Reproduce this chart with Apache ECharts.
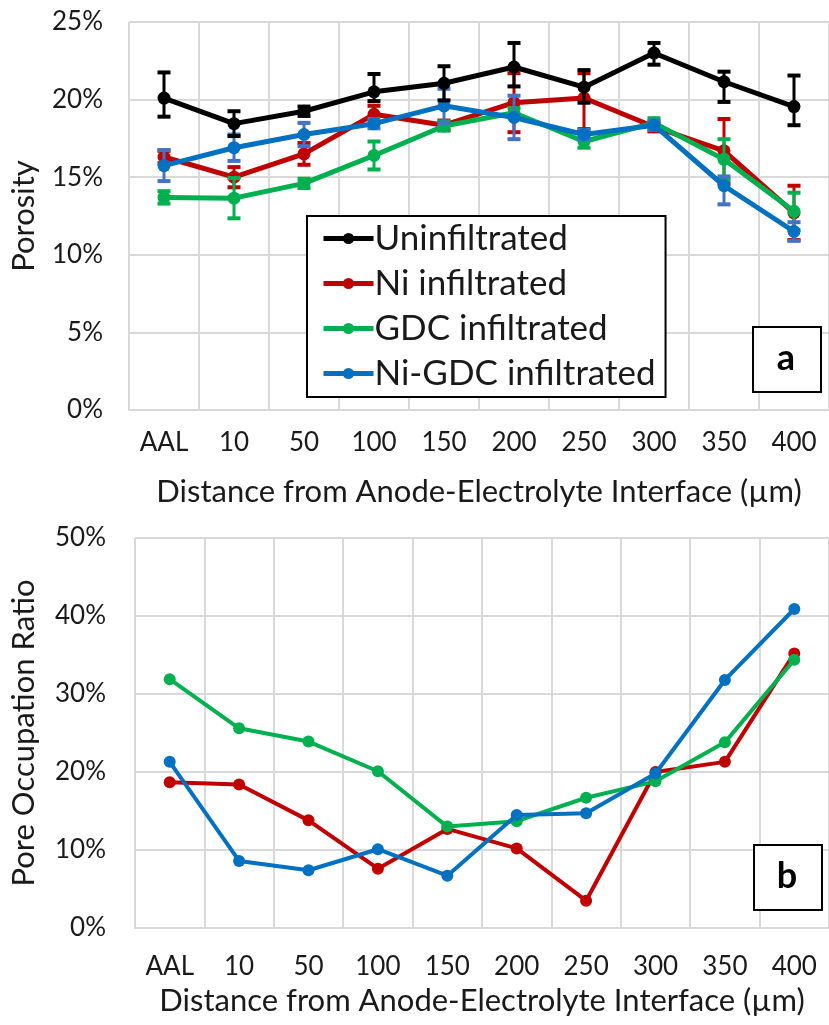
<!DOCTYPE html>
<html>
<head>
<meta charset="utf-8">
<script src="https://cdn.jsdelivr.net/npm/echarts@6/dist/echarts.min.js"></script>
<style>
html,body{margin:0;padding:0;background:#fff;}
#chart{width:829px;height:1025px;}
</style>
</head>
<body>
<div id="chart"></div>
<script>
// ---------- data ----------
const categories = ['AAL','10','50','100','150','200','250','300','350','400'];
const seriesNames = ['Uninfiltrated','Ni infiltrated','GDC infiltrated','Ni-GDC infiltrated'];

// (a) Porosity, %
const uninfPorosity   = [20.1, 18.45, 19.25, 20.5, 21.05, 22.1, 20.8, 23.0, 21.15, 19.55];
const uninfErrUp      = [1.65, 0.8, 0.3, 1.15, 1.1, 1.55, 1.1, 0.65, 0.65, 2.0];
const uninfErrDown    = [1.2, 0.8, 0.3, 0.6, 1.1, 1.25, 1.0, 0.75, 1.3, 1.2];

const niPorosity      = [16.3, 15.0, 16.5, 19.05, 18.35, 19.8, 20.1, 18.25, 16.7, 12.7];
const niErrUp         = [0.4, 0.65, 0.7, 0.55, 0.3, 1.9, 1.6, 0.3, 2.05, 1.75];
const niErrDown       = [0.4, 0.65, 0.7, 0.55, 0.3, 1.9, 2.0, 0.3, 2.1, 1.75];

const gdcPorosity     = [13.7, 13.65, 14.6, 16.4, 18.3, 19.15, 17.3, 18.5, 16.15, 12.8];
const gdcErrUp        = [0.4, 1.3, 0.3, 0.9, 0.3, 0.3, 0.4, 0.3, 1.3, 1.2];
const gdcErrDown      = [0.4, 1.3, 0.3, 0.9, 0.3, 0.3, 0.4, 0.3, 1.3, 1.2];

const niGdcPorosity   = [15.75, 16.9, 17.75, 18.45, 19.6, 18.85, 17.75, 18.35, 14.45, 11.5];
const niGdcErrUp      = [1.0, 0.85, 0.75, 0.3, 1.1, 1.4, 0.3, 0.3, 0.6, 0.6];
const niGdcErrDown    = [1.0, 0.85, 0.75, 0.3, 1.1, 1.4, 0.3, 0.3, 1.2, 0.6];

// (b) Pore occupation ratio, %
const niPOR    = [18.7, 18.4, 13.8, 7.6, 12.7, 10.2, 3.5, 20.0, 21.3, 35.2];
const gdcPOR   = [31.9, 25.6, 23.9, 20.1, 13.0, 13.7, 16.7, 18.8, 23.8, 34.4];
const niGdcPOR = [21.3, 8.6, 7.4, 10.1, 6.7, 14.5, 14.7, 19.8, 31.8, 40.9];

const porosityTicks = {min: 0, max: 25, interval: 5};
const porTicks = {min: 0, max: 50, interval: 10};

// ---------- styles ----------
const FONT = 'Lato';
const TXT = '#1a1a1a';
const GRIDC = '#d9d9d9';
const colors = {black:'#000000', red:'#c00000', green:'#00b050', blue:'#0070c0'};
const errColors = {black:'#000000', red:'#c00000', green:'#00b050', blue:'#4472c4'};

function errData(vals, up, down){
  return vals.map((v,i)=>[i, v - down[i], v + up[i]]);
}
function errSeries(name, vals, up, down, color, z){
  return {
    type:'custom', name: name + ' err', xAxisIndex:0, yAxisIndex:0, z: z,
    silent:true,
    encode:{x:0, y:[1,2]},
    data: errData(vals, up, down),
    renderItem: function(params, api){
      const x = api.value(0);
      const lo = api.coord([x, api.value(1)]);
      const hi = api.coord([x, api.value(2)]);
      const hw = 6.5;
      const st = {stroke: color, lineWidth: 3};
      const cs = {stroke: color, lineWidth: 4};
      return {type:'group', children:[
        {type:'line', shape:{x1:lo[0], y1:lo[1], x2:hi[0], y2:hi[1]}, style: st},
        {type:'line', shape:{x1:hi[0]-hw, y1:hi[1], x2:hi[0]+hw, y2:hi[1]}, style: cs},
        {type:'line', shape:{x1:lo[0]-hw, y1:lo[1], x2:lo[0]+hw, y2:lo[1]}, style: cs}
      ]};
    }
  };
}
function lineSeries(name, vals, color, ax, z, lw, sym){
  return {
    type:'line', name: name, xAxisIndex: ax, yAxisIndex: ax, z: z,
    data: vals, symbol:'circle', symbolSize: sym,
    lineStyle:{color: color, width: lw},
    itemStyle:{color: color},
    emphasis:{disabled:true},
    animation:false
  };
}

const axisLabel = {color: TXT, fontFamily: FONT, fontSize: 26};
const nameStyle = {color: TXT, fontFamily: FONT, fontSize: 31};

function xAxisCfg(gi, margin, gap){
  return {
    type:'category', gridIndex: gi, data: categories, boundaryGap: true,
    axisLine:{show:true, lineStyle:{color: GRIDC, width: 2}},
    axisTick:{show:false},
    splitLine:{show:true, interval:0, lineStyle:{color: GRIDC, width: 2}},
    axisLabel: Object.assign({margin: margin, interval:0}, axisLabel),
    name: 'Distance from Anode-Electrolyte Interface (µm)',
    nameLocation:'middle', nameGap: gap, nameTextStyle: nameStyle
  };
}
function yAxisCfg(gi, t, name, margin, gap){
  return {
    type:'value', gridIndex: gi, min: t.min, max: t.max, interval: t.interval,
    axisLine:{show:false}, axisTick:{show:false},
    splitLine:{show:true, lineStyle:{color: GRIDC, width: 2}},
    axisLabel: Object.assign({margin: margin, formatter:'{value}%'}, axisLabel),
    name: name, nameLocation:'middle', nameGap: gap, nameRotate: 90,
    nameTextStyle: nameStyle
  };
}

const option = {
  backgroundColor:'#fff',
  animation:false,
  textStyle:{fontFamily: FONT},
  grid:[
    {left:128, top:22, width:706, height:388},
    {left:132, top:538, width:701, height:390}
  ],
  xAxis:[ xAxisCfg(0, 20, 66), xAxisCfg(1, 26, 57) ],
  yAxis:[ yAxisCfg(0, porosityTicks, 'Porosity', 26, 90),
          yAxisCfg(1, porTicks, 'Pore Occupation Ratio', 29, 96) ],
  legend:{
    data: seriesNames,
    left: 307, top: 216, width: 353, height: 181,
    orient:'vertical',
    backgroundColor:'#fff', borderColor:'#000', borderWidth: 2,
    padding:[5, 10, 6, 14],
    itemWidth: 50, itemHeight: 14, itemGap: 10,
    itemStyle:{borderWidth:0},
    lineStyle:{width:5},
    textStyle:{color: TXT, fontFamily: FONT, fontSize: 35, padding:[0,0,0,-4]},
    selectedMode:false
  },
  graphic:[
    {type:'rect', left:752, top:326, shape:{width:68, height:65},
     style:{fill:'#fff', stroke:'#000', lineWidth:2}, z:100},
    {type:'text', style:{text:'a', x:786, y:358, align:'center', verticalAlign:'middle', font:'bold 36px Lato', fill:'#000'}, z:101},
    {type:'rect', left:753, top:844, shape:{width:68, height:65},
     style:{fill:'#fff', stroke:'#000', lineWidth:2}, z:100},
    {type:'text', style:{text:'b', x:787, y:876, align:'center', verticalAlign:'middle', font:'bold 36px Lato', fill:'#000'}, z:101}
  ],
  series:[
    // panel a: order bottom->top: red, green, blue, black
    errSeries(seriesNames[1], niPorosity, niErrUp, niErrDown, errColors.red, 2),
    lineSeries(seriesNames[1], niPorosity, colors.red, 0, 3, 5, 13),
    errSeries(seriesNames[2], gdcPorosity, gdcErrUp, gdcErrDown, errColors.green, 4),
    lineSeries(seriesNames[2], gdcPorosity, colors.green, 0, 5, 5, 13),
    errSeries(seriesNames[3], niGdcPorosity, niGdcErrUp, niGdcErrDown, errColors.blue, 6),
    lineSeries(seriesNames[3], niGdcPorosity, colors.blue, 0, 7, 5, 13),
    errSeries(seriesNames[0], uninfPorosity, uninfErrUp, uninfErrDown, errColors.black, 8),
    lineSeries(seriesNames[0], uninfPorosity, colors.black, 0, 9, 5, 13),
    // panel b
    lineSeries(seriesNames[1], niPOR, colors.red, 1, 3, 4, 12),
    lineSeries(seriesNames[2], gdcPOR, colors.green, 1, 5, 4, 12),
    lineSeries(seriesNames[3], niGdcPOR, colors.blue, 1, 7, 4, 12)
  ]
};

const chart = echarts.init(document.getElementById('chart'), null, {renderer:'canvas'});
chart.setOption(option);
</script>
</body>
</html>
